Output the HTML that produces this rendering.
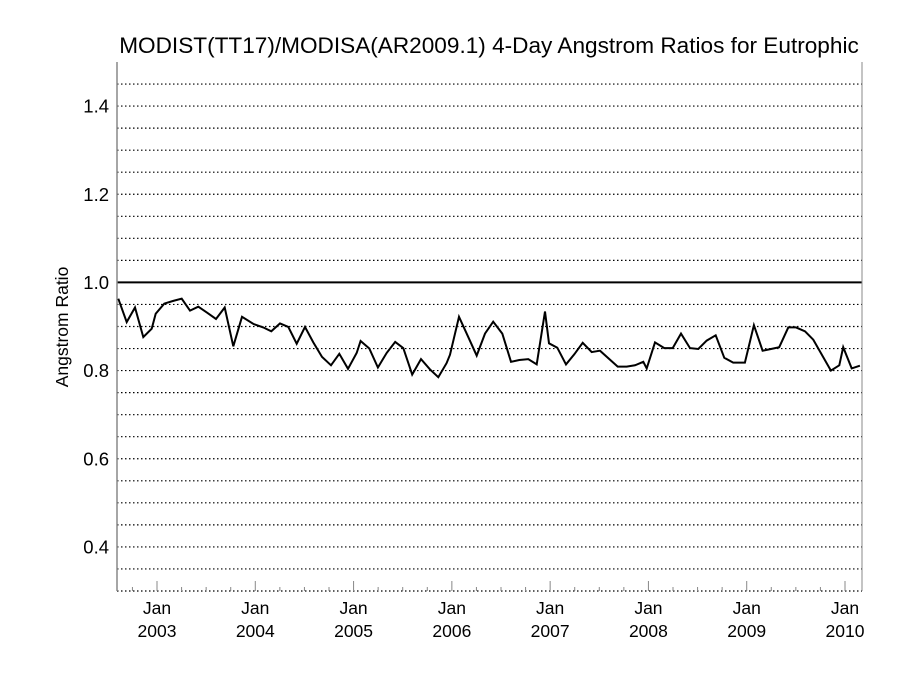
<!DOCTYPE html>
<html><head><meta charset="utf-8"><style>
body{margin:0;background:#fff;font-family:"Liberation Sans",Arial,sans-serif}
svg text{font-family:"Liberation Sans",Arial,sans-serif;fill:#000}
</style></head><body>
<svg id="c" width="900" height="675">
<text x="489" y="53" font-size="22.6" text-anchor="middle">MODIST(TT17)/MODISA(AR2009.1) 4-Day Angstrom Ratios for Eutrophic</text>
<text transform="translate(68,327) rotate(-90)" font-size="17.5" text-anchor="middle">Angstrom Ratio</text>
<g id="grid"></g><g id="axes"></g><g id="series"></g>
</svg>
<script>
const years=[2003,2004,2005,2006,2007,2008,2009,2010];
const yTicks=[0.4,0.6,0.8,1.0,1.2,1.4];
const times=[2002.606,2002.692,2002.776,2002.861,2002.946,2002.987,2003.074,2003.166,2003.251,2003.336,2003.420,2003.512,2003.600,2003.689,2003.776,2003.865,2003.980,2004.081,2004.163,2004.251,2004.336,2004.421,2004.506,2004.590,2004.679,2004.770,2004.855,2004.943,2005.032,2005.072,2005.160,2005.248,2005.337,2005.424,2005.506,2005.597,2005.686,2005.777,2005.862,2005.947,2005.981,2006.073,2006.161,2006.253,2006.337,2006.421,2006.513,2006.602,2006.686,2006.778,2006.863,2006.948,2006.988,2007.073,2007.161,2007.246,2007.331,2007.423,2007.507,2007.687,2007.779,2007.863,2007.948,2007.982,2008.067,2008.161,2008.247,2008.331,2008.423,2008.507,2008.593,2008.684,2008.772,2008.863,2008.982,2009.073,2009.162,2009.247,2009.331,2009.423,2009.501,2009.593,2009.677,2009.857,2009.942,2009.982,2010.068,2010.152];
const ratios=[.963,.910,.943,.876,.895,.929,.952,.958,.963,.936,.945,.931,.917,.943,.855,.922,.906,.898,.889,.907,.899,.861,.899,.864,.831,.812,.838,.804,.840,.867,.850,.807,.840,.865,.851,.791,.826,.803,.785,.817,.836,.922,.879,.834,.884,.911,.884,.820,.824,.826,.814,.934,.862,.852,.814,.837,.863,.842,.845,.809,.809,.812,.820,.805,.864,.851,.851,.884,.851,.849,.868,.880,.829,.818,.818,.903,.845,.849,.853,.898,.898,.889,.870,.800,.812,.853,.805,.811];
const L=117,R=862,T=62,B=591;
const x0=2002.593,x1=2010.173,y0=0.3,y1=1.5;
const X=t=>L+(t-x0)/(x1-x0)*(R-L);
const Y=v=>B-(v-y0)/(y1-y0)*(B-T);
const NS="http://www.w3.org/2000/svg";
function mk(tag,parent,attrs){const e=document.createElementNS(NS,tag);for(const k in attrs)e.setAttribute(k,attrs[k]);parent.appendChild(e);return e;}
const grid=document.getElementById('grid'),axes=document.getElementById('axes'),series=document.getElementById('series');
for(let i=1;i<24;i++){const v=y0+i*0.05;if(Math.abs(v-1)<1e-6)continue;
 const g=mk('line',grid,{x1:L,x2:R,y1:Y(v),y2:Y(v),stroke:'#000','stroke-width':1.2,'stroke-dasharray':'1.5,2.5'});
 
 }
const bl=mk('line',grid,{x1:L,x2:R,y1:B,y2:B,stroke:'#000','stroke-width':1.2,'stroke-dasharray':'1.5,2.5'});


const ref=mk('line',grid,{x1:L,x2:R,y1:Y(1),y2:Y(1),stroke:'#000','stroke-width':2});


const ya=mk('line',axes,{x1:L,x2:L,y1:T,y2:B,stroke:'#888','stroke-width':1.5});


const ra=mk('line',axes,{x1:R,x2:R,y1:T,y2:B,stroke:'#888','stroke-width':1});


yTicks.forEach(v=>{const t=mk('text',axes,{x:L-8,y:Y(v)+6.5,'font-size':18.5,'text-anchor':'end'});t.textContent=v.toFixed(1);
 
 });
for(let q=2002.75;q<x1;q+=0.25){if(q<x0)continue;const major=Math.abs(q-Math.round(q))<1e-6;
 const tk=mk('line',axes,{x1:X(q),x2:X(q),y1:B,y2:B-(major?10:4),stroke:'#888','stroke-width':1});
 
 }
years.forEach(yr=>{const a=mk('text',axes,{x:X(yr),y:614,'font-size':17.5,'text-anchor':'middle'});a.textContent='Jan';
 
 
 const b=mk('text',axes,{x:X(yr),y:637,'font-size':17.5,'text-anchor':'middle'});b.textContent=String(yr);
 
 });
const pts=times.map((t,i)=>X(t).toFixed(1)+','+Y(ratios[i]).toFixed(1)).join(' ');
const pl=mk('polyline',series,{points:pts,fill:'none',stroke:'#000','stroke-width':2,'stroke-linejoin':'miter'});


</script>
</body></html>
